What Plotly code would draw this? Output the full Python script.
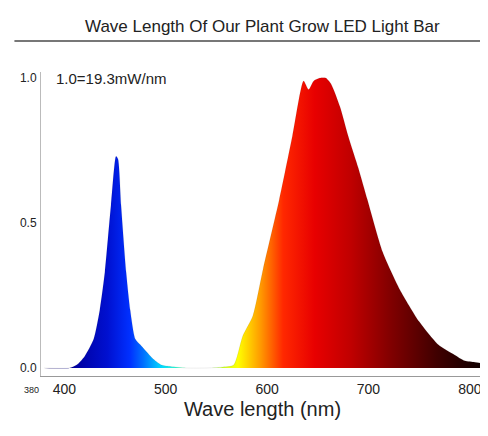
import plotly.graph_objects as go

wavelength = [380, 405, 412, 420, 429, 435, 440, 446, 451, 453, 456, 461, 465, 470, 475, 480, 488, 496, 505, 520, 540, 555, 567, 576, 586, 596, 612, 625, 636, 641, 646, 652, 658, 663, 672, 680, 690, 699, 714, 731, 750, 769, 785, 795, 805, 814]
intensity = [0.0, 0.0, 0.01, 0.04, 0.10, 0.20, 0.33, 0.56, 0.73, 0.72, 0.56, 0.33, 0.20, 0.10, 0.08, 0.06, 0.03, 0.01, 0.005, 0.0, 0.0, 0.003, 0.01, 0.11, 0.18, 0.34, 0.58, 0.80, 0.99, 0.96, 0.99, 1.0, 1.0, 0.98, 0.90, 0.80, 0.69, 0.58, 0.40, 0.27, 0.16, 0.08, 0.045, 0.025, 0.02, 0.015]

x_ticks = [400, 500, 600, 700, 800]
y_ticks = [0.0, 0.5, 1.0]
y_tick_labels = ["0.0", "0.5", "1.0"]

spectrum_colors = [
    (0.00, "#10006a"), (0.07, "#0000a0"), (0.14, "#0010d0"), (0.19, "#0030ff"),
    (0.22, "#0070ff"), (0.26, "#00d8ff"), (0.30, "#40ffc8"), (0.37, "#a0ff50"),
    (0.43, "#ffff00"), (0.48, "#ff9a00"), (0.53, "#ff2800"), (0.60, "#e80000"),
    (0.68, "#c00000"), (0.77, "#800000"), (0.87, "#400000"), (1.00, "#000000"),
]

fig = go.Figure()
fig.add_trace(go.Scatter(
    x=wavelength, y=intensity, mode="lines", line=dict(width=0.5, color="rgba(0,0,0,0.15)", shape="spline", smoothing=0.6),
    fill="tozeroy",
    fillgradient=dict(type="horizontal", colorscale=spectrum_colors, start=380, stop=815),
    hoverinfo="skip", showlegend=False,
))

fig.update_layout(
    width=488, height=436,
    margin=dict(l=23, r=12, t=64, b=68),
    paper_bgcolor="white", plot_bgcolor="white",
    font=dict(family="Liberation Sans, Arial", color="#222"),
    xaxis=dict(range=[377, 814], tickvals=x_ticks, ticks="", showgrid=False, zeroline=False,
               showline=True, linecolor="#999", linewidth=1, tickfont=dict(size=14),
               title=dict(text="Wave length (nm)", font=dict(size=20), standoff=6)),
    yaxis=dict(range=[-0.0276, 1.0207], tickvals=y_ticks, ticktext=y_tick_labels, ticks="",
               showgrid=False, zeroline=False, showline=True, linecolor="#bbb", linewidth=1,
               tickfont=dict(size=12), ticklabelstandoff=1),
    annotations=[
        dict(text="Wave Length Of Our Plant Grow LED Light Bar", xref="paper", yref="paper",
             x=0.5, y=1, yshift=46, xanchor="center", yanchor="middle", showarrow=False,
             font=dict(size=17)),
        dict(text="1.0=19.3mW/nm", xref="paper", yref="y", x=0.03, y=1.0, xanchor="left",
             yanchor="middle", showarrow=False, font=dict(size=15)),
        dict(text="380", xref="paper", yref="paper", x=0, y=0, xshift=-10, yshift=-14,
             xanchor="center", yanchor="middle", showarrow=False, font=dict(size=9)),
    ],
    shapes=[dict(type="line", xref="paper", yref="paper", x0=-0.06, x1=1.03,
                 ysizemode="pixel", yanchor=1, y0=31, y1=31,
                 line=dict(color="#777", width=2))],
)

fig.write_html("out.html")
